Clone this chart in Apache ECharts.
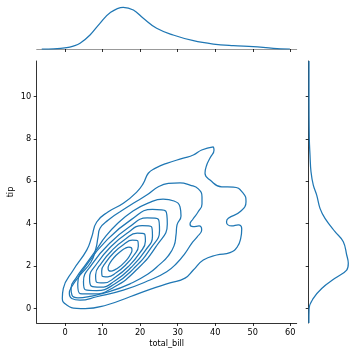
<!DOCTYPE html>
<html>
<head>
<meta charset="utf-8">
<script src="https://cdn.jsdelivr.net/npm/echarts@6/dist/echarts.min.js"></script>
<style>
	html, body { margin: 0; padding: 0; background: #fff; }
	#chart { width: 354px; height: 357px; }
</style>
</head>
<body>
<div id="chart"></div>
<script>
	// tick labels
	var xTicks = [0, 10, 20, 30, 40, 50, 60];
	var yTicks = [0, 2, 4, 6, 8, 10];

	// marginal densities: [total_bill, density] and [tip, density]
	var billKde = [[-6.2, 0], [-3, 0.0003], [0.45, 0.0018], [2.2, 0.004], [4.0, 0.0078], [6.66, 0.0191], [9.3, 0.035],
		[12.0, 0.0495], [15.5, 0.0569], [18.2, 0.0532], [20.85, 0.0419], [24.4, 0.0282], [28.8, 0.0191],
		[34.2, 0.0113], [39.5, 0.0068], [44.8, 0.0045], [50.1, 0.0031], [55.5, 0.001], [59.9, 0]];
	var tipKde = [[-0.69, 0.002], [0, 0.004], [0.47, 0.046], [0.94, 0.13], [1.42, 0.263], [1.81, 0.38], [2.13, 0.396],
		[2.52, 0.38], [3.15, 0.346], [3.62, 0.263], [4.25, 0.163], [4.72, 0.113], [5.35, 0.08], [5.82, 0.046],
		[6.45, 0.023], [7.24, 0.013], [8.03, 0.006], [10.4, 0.003], [11.68, 0.003]];

	// contour lines [total_bill, tip], outermost first
	var level1 = [[39.49, 7.63], [39.68, 7.48], [38.62, 7.10], [37.74, 6.77], [37.28, 6.38], [38.62, 6.06], [41.73, 5.74],
		[44.82, 5.73], [47.48, 5.43], [48.20, 5.04], [46.60, 4.56], [43.49, 4.25], [43.01, 4.08], [44.39, 3.89],
		[46.15, 3.94], [47.06, 3.75], [46.80, 3.32], [45.89, 2.91], [43.94, 2.63], [40.40, 2.52], [36.83, 2.28],
		[34.17, 1.81], [31.96, 1.43], [27.96, 1.20], [22.64, 0.90], [17.31, 0.55], [11.11, 0.16], [5.33, -0.01],
		[3.12, 0.00], [0.45, 0.16], [-0.72, 0.47], [-0.45, 0.94], [2.21, 1.81], [5.78, 2.75], [7.11, 3.37],
		[8.44, 4.08], [11.53, 4.56], [15.53, 4.96], [19.09, 5.49], [20.85, 5.90], [22.18, 6.38], [23.97, 6.61],
		[27.08, 6.85], [31.50, 7.09], [34.17, 7.24], [36.40, 7.48], [39.49, 7.63]];
	var level2 = [[14.65, 4.56], [18.19, 4.96], [21.76, 5.35], [24.85, 5.74], [27.51, 5.90], [30.63, 5.93], [33.29, 5.82],
		[35.50, 5.64], [36.48, 5.26], [36.48, 4.93], [35.42, 4.55], [34.09, 4.22], [33.29, 3.98], [34.09, 3.86],
		[35.69, 3.89], [36.40, 3.70], [35.15, 3.37], [33.74, 3.07], [31.96, 2.60], [29.75, 2.13], [27.08, 1.73],
		[22.64, 1.34], [15.53, 0.86], [8.44, 0.55], [3.99, 0.39], [1.78, 0.47], [1.15, 0.71], [1.78, 1.02],
		[3.99, 1.57], [6.92, 2.19], [8.26, 2.85], [8.79, 3.37], [9.32, 3.78], [11.53, 4.17], [14.65, 4.56]];
	var level3 = [[14.11, 4.03], [18.11, 4.60], [22.10, 4.97], [26.10, 5.16], [29.03, 5.07], [30.63, 4.79], [30.89, 4.36],
		[29.83, 3.94], [29.56, 3.47], [29.03, 2.95], [27.43, 2.47], [25.30, 2.09], [22.10, 1.62], [17.31, 1.16],
		[11.98, 0.80], [6.66, 0.57], [3.46, 0.50], [1.86, 0.62], [1.60, 0.96], [2.93, 1.43], [5.59, 2.09],
		[8.26, 2.75], [10.92, 3.42], [14.11, 4.03]];
	var level4 = [[11.36, 3.27], [17.63, 4.19], [23.28, 4.68], [26.80, 4.60], [27.24, 3.98], [24.48, 2.98], [19.27, 1.86],
		[13.0, 1.0], [7.5, 0.68], [4.0, 0.70], [3.39, 1.15], [6.14, 2.15], [11.36, 3.27]];
	var level5 = [[11.75, 3.05], [17.09, 3.84], [21.88, 4.27], [24.84, 4.21], [25.17, 3.68], [22.79, 2.83], [18.34, 1.89],
		[13.2, 1.15], [8.4, 0.84], [5.4, 0.88], [4.92, 1.26], [7.30, 2.11], [11.75, 3.05]];
	var level6 = [[12.18, 2.91], [16.60, 3.56], [20.56, 3.91], [23.01, 3.86], [23.29, 3.42], [21.33, 2.72], [17.64, 1.94],
		[13.23, 1.29], [9.4, 1.0], [7.0, 1.05], [6.54, 1.42], [8.50, 2.12], [12.18, 2.91]];
	var level7 = [[12.62, 2.76], [16.11, 3.28], [19.24, 3.55], [21.18, 3.51], [21.41, 3.17], [19.86, 2.61], [16.95, 1.99],
		[13.45, 1.48], [10.32, 1.20], [8.38, 1.24], [8.15, 1.58], [9.70, 2.14], [12.62, 2.76]];
	var level8 = [[13.05, 2.64], [15.62, 3.02], [17.93, 3.22], [19.36, 3.19], [19.52, 2.93], [18.39, 2.52], [16.25, 2.07],
		[13.68, 1.69], [11.37, 1.49], [9.94, 1.52], [9.77, 1.77], [10.91, 2.18], [13.05, 2.64]];
	var level9 = [[13.61, 2.51], [14.84, 2.70], [16.05, 2.84], [17.03, 2.89], [17.66, 2.86], [17.83, 2.75], [17.51, 2.58],
		[16.76, 2.36], [15.68, 2.15], [14.45, 1.95], [13.25, 1.82], [12.26, 1.76], [11.64, 1.79], [11.47, 1.91],
		[11.78, 2.08], [12.54, 2.29], [13.61, 2.51]];
	var levels = [level1, level2, level3, level4, level5, level6, level7, level8, level9];

	var blue = '#1f77b4';
	var font = 'DejaVu Sans';
	var fs = 8.2;
	var myChart = echarts.init(document.getElementById('chart'), null, { renderer: 'canvas' });

	var series = levels.map(function (pts) {
		return {
			type: 'line', xAxisIndex: 0, yAxisIndex: 0, data: pts, showSymbol: false, smooth: 0.5,
			lineStyle: { color: blue, width: 1.25 }, silent: true
		};
	});
	series.push({
		type: 'line', xAxisIndex: 1, yAxisIndex: 1, data: billKde, showSymbol: false, smooth: 0.4,
		lineStyle: { color: blue, width: 1.25 }, silent: true
	});
	// right margin: density on x, tip on y
	series.push({
		type: 'line', xAxisIndex: 2, yAxisIndex: 2, showSymbol: false, smooth: 0.4,
		data: tipKde.map(function (p) { return [p[1], p[0]]; }),
		lineStyle: { color: blue, width: 1.25 }, silent: true
	});

	var tick = { show: true, length: 3, lineStyle: { color: '#000', width: 0.8 } };
	var option = {
		animation: false,
		grid: [
			{ left: 36.7, top: 61, width: 260, height: 262, outerBoundsMode: 'none', containLabel: false },
			{ left: 36.7, top: 5, width: 260, height: 44, outerBoundsMode: 'none', containLabel: false },
			{ left: 308.7, top: 61, width: 45, height: 262, outerBoundsMode: 'none', containLabel: false }
		],
		xAxis: [
			{
				gridIndex: 0, type: 'value', min: -7.54, max: 61.7,
				name: 'total_bill', nameLocation: 'middle', nameGap: 17, nameMoveOverlap: false,
				nameTextStyle: { fontFamily: font, fontSize: fs, color: '#000' },
				axisLine: { show: true, onZero: false, lineStyle: { color: '#000', width: 0.8 } },
				axisTick: Object.assign({ customValues: xTicks }, tick),
				axisLabel: { customValues: xTicks, fontFamily: font, fontSize: fs, color: '#000', margin: 5.5 },
				splitLine: { show: false }
			},
			{
				gridIndex: 1, type: 'value', min: -7.54, max: 61.7,
				axisLine: { show: true, onZero: false, lineStyle: { color: '#999', width: 1 } },
				axisTick: Object.assign({ customValues: xTicks }, tick),
				axisLabel: { show: false, customValues: xTicks },
				splitLine: { show: false }
			},
			{
				gridIndex: 2, type: 'value', min: 0, max: 0.45, show: false, splitLine: { show: false }
			}
		],
		yAxis: [
			{
				gridIndex: 0, type: 'value', min: -0.69, max: 11.68,
				name: 'tip', nameLocation: 'middle', nameGap: 22, nameRotate: 90, nameMoveOverlap: false,
				nameTextStyle: { fontFamily: font, fontSize: fs, color: '#000' },
				axisLine: { show: true, onZero: false, lineStyle: { color: '#000', width: 0.8 } },
				axisTick: Object.assign({ customValues: yTicks }, tick),
				axisLabel: { customValues: yTicks, fontFamily: font, fontSize: fs, color: '#000', margin: 5.5 },
				splitLine: { show: false }
			},
			{
				gridIndex: 1, type: 'value', min: 0, max: 0.06, show: false, splitLine: { show: false }
			},
			{
				gridIndex: 2, type: 'value', min: -0.69, max: 11.68,
				axisLine: { show: true, onZero: false, lineStyle: { color: '#000', width: 0.8 } },
				axisTick: Object.assign({ customValues: yTicks }, tick),
				axisLabel: { show: false, customValues: yTicks },
				splitLine: { show: false }
			}
		],
		series: series
	};
	myChart.setOption(option);
</script>
</body>
</html>
